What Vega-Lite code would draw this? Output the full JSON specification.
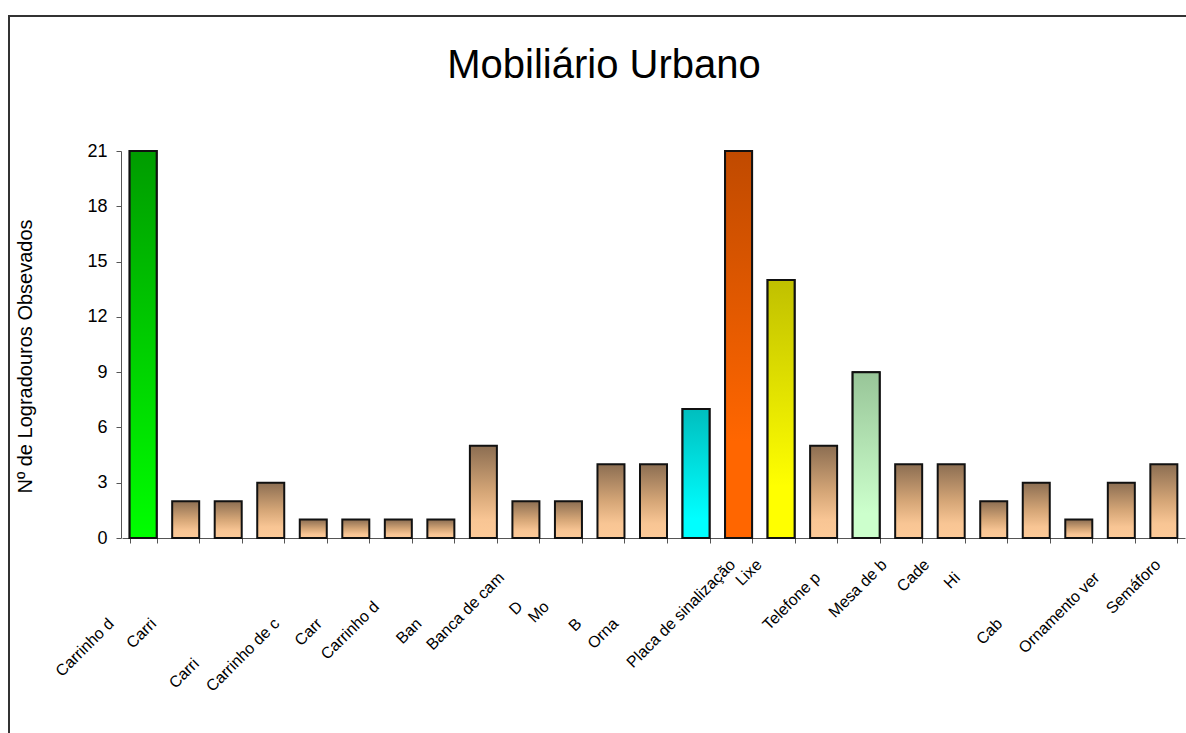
{
  "$schema": "https://vega.github.io/schema/vega-lite/v6.json",
  "autosize": "none",
  "width": 1190,
  "height": 730,
  "padding": {"left": 9, "top": 16, "right": 0, "bottom": 0},
  "background": "white",
  "title": {"text": "Mobiliário Urbano", "font": "Liberation Sans", "fontSize": 40, "fontWeight": "normal", "color": "black", "baseline": "alphabetic", "offset": 0, "dy": 102, "anchor": "middle", "frame": "group"},
  "config": {"view": {"stroke": "#333333", "strokeWidth": 2}, "font": "Liberation Sans"},
  "data": {"values": [
    {"cat": "Carrinho d", "valor": 21},
    {"cat": "Carri", "valor": 2},
    {"cat": "Carri ", "valor": 2},
    {"cat": "Carrinho de c", "valor": 3},
    {"cat": "Carr", "valor": 1},
    {"cat": " ", "valor": 1},
    {"cat": "Carrinho d ", "valor": 1},
    {"cat": "Ban", "valor": 1},
    {"cat": "Banca de cam", "valor": 5},
    {"cat": "D", "valor": 2},
    {"cat": "Mo", "valor": 2},
    {"cat": "B", "valor": 4},
    {"cat": "Orna", "valor": 4},
    {"cat": "  ", "valor": 7},
    {"cat": "Placa de sinalização", "valor": 21},
    {"cat": "Lixe", "valor": 14},
    {"cat": "Telefone p", "valor": 5},
    {"cat": "Mesa de b", "valor": 9},
    {"cat": "Cade", "valor": 4},
    {"cat": "Hi", "valor": 4},
    {"cat": "Cab", "valor": 2},
    {"cat": "   ", "valor": 3},
    {"cat": "Ornamento ver", "valor": 1},
    {"cat": "    ", "valor": 3},
    {"cat": "Semáforo", "valor": 4}
  ]},
  "encoding": {
    "x": {
      "field": "cat", "type": "nominal", "sort": null,
      "scale": {"range": [113, 1176], "paddingInner": 0.365, "paddingOuter": 0.18},
      "axis": {
        "orient": "bottom", "offset": -208, "title": null, "grid": false,
        "labelAngle": -45, "labelAlign": "right", "labelBaseline": "top",
        "labelFont": "Liberation Sans", "labelFontSize": 16, "labelColor": "black",
        "labelOverlap": false, "labelBound": false, "labelLimit": 0,
        "tickBand": "extent", "tickSize": 5, "tickColor": "#555555", "domainColor": "#555555",
        "labelOffset": {
          "condition": [
            {"test": "datum.value === 'Orna'", "value": -44},
            {"test": "indexof(['Carrinho d','Carri','Carri ','B'], datum.value) >= 0", "value": -38},
            {"test": "indexof(['Carrinho d ','Ban','Mo','Lixe'], datum.value) >= 0", "value": -28},
            {"test": "indexof(['Carrinho de c','Cab','Hi','Carr'], datum.value) >= 0", "value": 0},
            {"test": "indexof(['Banca de cam','Mesa de b','Cade','Ornamento ver'], datum.value) >= 0", "value": 12}
          ],
          "value": -12
        },
        "labelPadding": {
          "condition": [
            {"test": "datum.value === 'Carri '", "value": 112},
            {"test": "indexof(['Carrinho d','Carri','Carrinho de c','Carr','Ban','B','Orna','Cab'], datum.value) >= 0", "value": 72},
            {"test": "indexof(['D','Mo','Carrinho d '], datum.value) >= 0", "value": 55},
            {"test": "indexof(['Banca de cam','Telefone p','Hi','Ornamento ver'], datum.value) >= 0", "value": 26}
          ],
          "value": 13
        }
      }
    },
    "y": {
      "field": "valor", "type": "quantitative",
      "scale": {"domain": [0, 21], "range": [522, 135], "nice": false},
      "axis": {
        "orient": "left", "offset": -112, "grid": false,
        "title": "Nº de Logradouros Obsevados", "titleFont": "Liberation Sans", "titleFontSize": 20,
        "titleFontWeight": "normal", "titleColor": "black", "titlePadding": 51, "titleY": 340,
        "values": [0, 3, 6, 9, 12, 15, 18, 21],
        "labelFont": "Liberation Sans", "labelFontSize": 18, "labelColor": "black", "labelPadding": 9,
        "tickSize": 5, "tickColor": "#555555", "domainColor": "#555555"
      }
    }
  },
  "layer": [
    {
      "mark": {"type": "bar", "stroke": "#111111", "strokeWidth": 2,
        "fill": {"gradient": "linear", "x1": 0, "y1": 0, "x2": 0, "y2": 1, "stops": [
          {"offset": 0, "color": "#8c6e52"}, {"offset": 0.5, "color": "#d5a677"}, {"offset": 0.8, "color": "#f8c594"}, {"offset": 1, "color": "#fdca98"}]}}
    },
    {
      "mark": {"type": "bar", "stroke": "#111111", "strokeWidth": 2,
        "fill": {"gradient": "linear", "x1": 0, "y1": 0, "x2": 0, "y2": 1, "stops": [
          {"offset": 0, "color": "#009c00"}, {"offset": 1, "color": "#00ff00"}]}},
      "encoding": {"opacity": {"condition": {"test": "datum.cat === 'Carrinho d'", "value": 1}, "value": 0}}
    },
    {
      "mark": {"type": "bar", "stroke": "#111111", "strokeWidth": 2,
        "fill": {"gradient": "linear", "x1": 0, "y1": 0, "x2": 0, "y2": 1, "stops": [
          {"offset": 0, "color": "#00bebe"}, {"offset": 0.85, "color": "#00ffff"}, {"offset": 1, "color": "#00ffff"}]}},
      "encoding": {"opacity": {"condition": {"test": "datum.cat === '  '", "value": 1}, "value": 0}}
    },
    {
      "mark": {"type": "bar", "stroke": "#111111", "strokeWidth": 2,
        "fill": {"gradient": "linear", "x1": 0, "y1": 0, "x2": 0, "y2": 1, "stops": [
          {"offset": 0, "color": "#c04a00"}, {"offset": 0.75, "color": "#ff6600"}, {"offset": 1, "color": "#ff6600"}]}},
      "encoding": {"opacity": {"condition": {"test": "datum.cat === 'Placa de sinalização'", "value": 1}, "value": 0}}
    },
    {
      "mark": {"type": "bar", "stroke": "#111111", "strokeWidth": 2,
        "fill": {"gradient": "linear", "x1": 0, "y1": 0, "x2": 0, "y2": 1, "stops": [
          {"offset": 0, "color": "#c0c000"}, {"offset": 0.8, "color": "#ffff00"}, {"offset": 1, "color": "#ffff00"}]}},
      "encoding": {"opacity": {"condition": {"test": "datum.cat === 'Lixe'", "value": 1}, "value": 0}}
    },
    {
      "mark": {"type": "bar", "stroke": "#111111", "strokeWidth": 2,
        "fill": {"gradient": "linear", "x1": 0, "y1": 0, "x2": 0, "y2": 1, "stops": [
          {"offset": 0, "color": "#98c598"}, {"offset": 0.85, "color": "#ccffcc"}, {"offset": 1, "color": "#ccffcc"}]}},
      "encoding": {"opacity": {"condition": {"test": "datum.cat === 'Mesa de b'", "value": 1}, "value": 0}}
    }
  ]
}
